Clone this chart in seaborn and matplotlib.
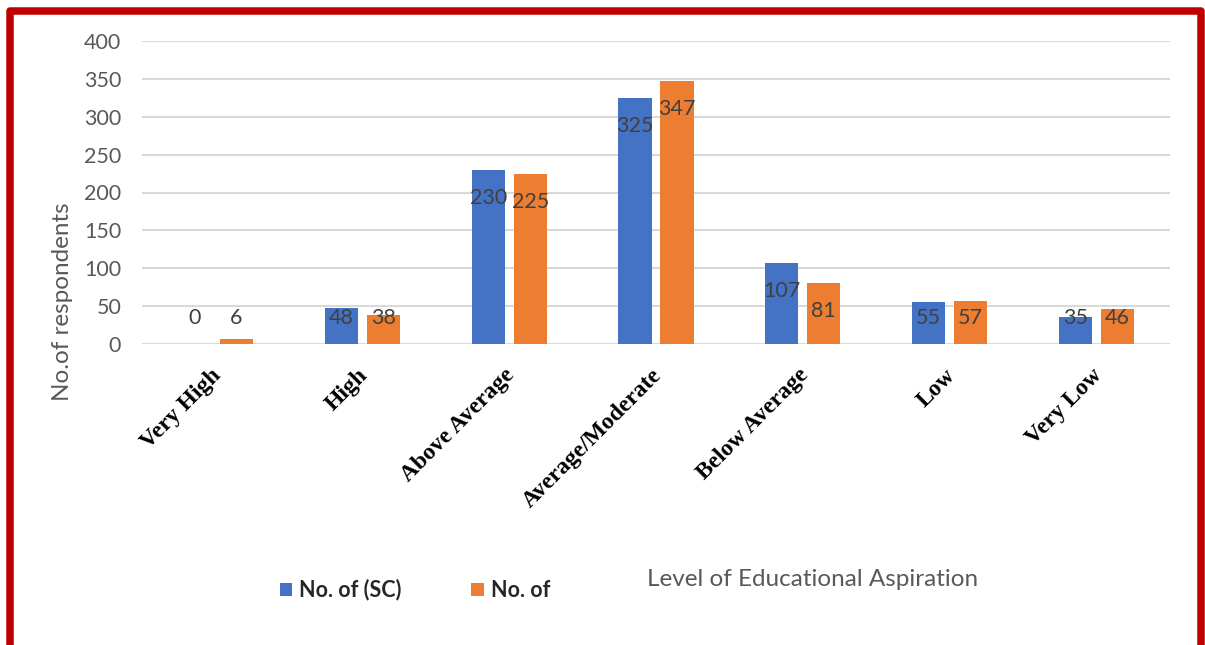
import numpy as np
import pandas as pd
import matplotlib
matplotlib.use("Agg")
import matplotlib.pyplot as plt
import matplotlib.transforms as mtransforms
from matplotlib.patches import Rectangle, Patch
import seaborn as sns

categories = ["Very High", "High", "Above Average", "Average/Moderate",
              "Below Average", "Low", "Very Low"]
series_names = ["No. of (SC)", "No. of"]
sc_values = [0, 48, 230, 325, 107, 55, 35]
other_values = [6, 38, 225, 347, 81, 57, 46]
y_ticks = [0, 50, 100, 150, 200, 250, 300, 350, 400]
y_label = "No.of respondents"
x_label = "Level of Educational Aspiration"

colors = ["#4472C4", "#ED7D31"]

df = pd.DataFrame({
    "category": categories * 2,
    "series": [series_names[0]] * len(categories) + [series_names[1]] * len(categories),
    "value": sc_values + other_values,
})

sns.set_theme(style="white")
plt.rcParams["font.family"] = ["Lato", "DejaVu Sans"]

fig = plt.figure(figsize=(12.05, 6.45), dpi=100)
ax = fig.add_axes([142 / 1205, 1 - 344 / 645, (1170 - 142) / 1205, (344 - 41) / 645])

sns.barplot(data=df, x="category", y="value", hue="series", order=categories,
            hue_order=series_names, palette=colors, width=0.572, gap=0.21,
            saturation=1, ax=ax, legend=False, linewidth=0)

ax.set_ylim(0, 400)
ax.set_xlim(-0.5, len(categories) - 0.5)
ax.set_yticks(y_ticks)
ax.set_yticklabels([str(t) for t in y_ticks], fontsize=15.5, color="#595959")
ax.tick_params(axis="y", length=0, pad=15)
ax.tick_params(axis="x", length=0, pad=15)
for s in ax.spines.values():
    s.set_visible(False)
ax.grid(axis="y", color="#D9D9D9", linewidth=1.5)
ax.set_axisbelow(True)

ax.set_xticks(range(len(categories)))
ax.set_xticklabels(categories, rotation=45, ha="right", va="top",
                   rotation_mode="anchor", fontsize=17, fontweight="bold",
                   family="Liberation Serif", color="black")
offset = mtransforms.ScaledTranslation(-5 / 100, 0, fig.dpi_scale_trans)
for lab in ax.get_xticklabels():
    lab.set_transform(lab.get_transform() + offset)

ax.set_xlabel("")
ax.set_ylabel(y_label, fontsize=17.5, color="#595959")
ax.yaxis.set_label_coords((73 - 142) / 1028, (344 - 302) / 303)

# data labels, inside end
for cont, vals in zip(ax.containers, [sc_values, other_values]):
    for bar, v in zip(cont, vals):
        xc = bar.get_x() + bar.get_width() / 2
        yl = max(v - 37, 34.3)
        ax.text(xc, yl, str(v), ha="center", va="center", fontsize=15.5,
                color="#404040")

fig.text(813 / 1205, 1 - 580 / 645, x_label, ha="center", va="center",
         fontsize=17.5, color="#595959")

handles = [Patch(facecolor=c, edgecolor="none") for c in colors]
fig.legend(handles, series_names, loc="center", bbox_to_anchor=(415 / 1205, 1 - 590 / 645),
           ncol=2, frameon=False, handlelength=0.56, handleheight=0.56,
           columnspacing=3.25, handletextpad=0.35,
           prop={"size": 15.5, "weight": "bold"}, labelcolor="#262626")

border = Rectangle((9.5 / 1205, -2 / 645), (1200.5 - 9.5) / 1205, (645 - 11 + 2) / 645,
                   transform=fig.transFigure, fill=False, edgecolor="#C00000",
                   linewidth=5.4, joinstyle="round", clip_on=False)
fig.add_artist(border)

fig.savefig("out.png", dpi=100, facecolor="white")
